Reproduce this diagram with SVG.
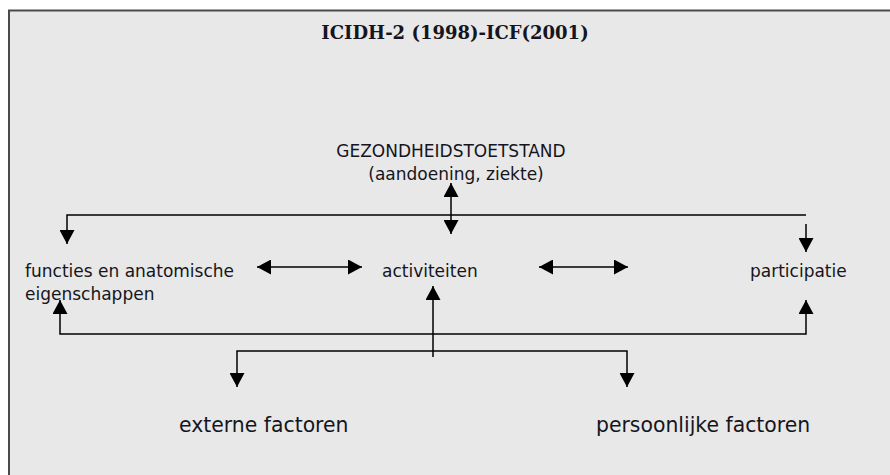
<svg xmlns="http://www.w3.org/2000/svg" width="890" height="475" viewBox="0 0 890 475">
<style>
.t{font-family:"DejaVu Sans","Verdana",sans-serif;fill:#151520;font-size:17px}
.big{font-size:20.4px}
.title{font-family:"DejaVu Serif",serif;font-weight:bold;font-size:18px;fill:#151520}
.c{fill:none;stroke:#000;stroke-width:1.5}
</style>
<defs>
<marker id="ah" markerUnits="userSpaceOnUse" markerWidth="15" markerHeight="15" viewBox="0 0 14 15" refX="14" refY="7.5" orient="auto-start-reverse">
<path d="M0,0 L14,7.5 L0,15 z" fill="#000"/>
</marker>
</defs>
<rect x="0" y="0" width="890" height="475" fill="#fff"/>
<rect x="9" y="10.5" width="900" height="480" fill="#e8e8e8" stroke="#4a4a4a" stroke-width="2"/>
<g id="title"><text class="title" x="455" y="39" text-anchor="middle">ICIDH-2 (1998)-ICF(2001)</text></g>
<g id="gezondheid">
<text class="t" x="451" y="157" text-anchor="middle">GEZONDHEIDSTOETSTAND</text>
<text class="t" x="456" y="180" text-anchor="middle">(aandoening, ziekte)</text>
</g>
<g id="functies">
<text class="t" x="25" y="277">functies en anatomische</text>
<text class="t" x="25" y="300">eigenschappen</text>
</g>
<g id="activiteiten"><text class="t" x="382" y="277">activiteiten</text></g>
<g id="participatie"><text class="t" x="750" y="277">participatie</text></g>
<g id="externe"><text class="t big" x="179" y="432">externe factoren</text></g>
<g id="persoonlijke"><text class="t big" x="596" y="432">persoonlijke factoren</text></g>
<g id="connectors">
<path class="c" d="M451,183 V234" marker-start="url(#ah)" marker-end="url(#ah)"/>
<path class="c" d="M806,215 H67 V244" marker-end="url(#ah)"/>
<path class="c" d="M806,224 V252" marker-end="url(#ah)"/>
<path class="c" d="M257,267 H362" marker-start="url(#ah)" marker-end="url(#ah)"/>
<path class="c" d="M539,267 H628" marker-start="url(#ah)" marker-end="url(#ah)"/>
<path class="c" d="M433,357 V286" marker-end="url(#ah)"/>
<path class="c" d="M60,300 V334 H806 V300" marker-start="url(#ah)" marker-end="url(#ah)"/>
<path class="c" d="M237,387 V351 H627 V387" marker-start="url(#ah)" marker-end="url(#ah)"/>
</g>
</svg>
